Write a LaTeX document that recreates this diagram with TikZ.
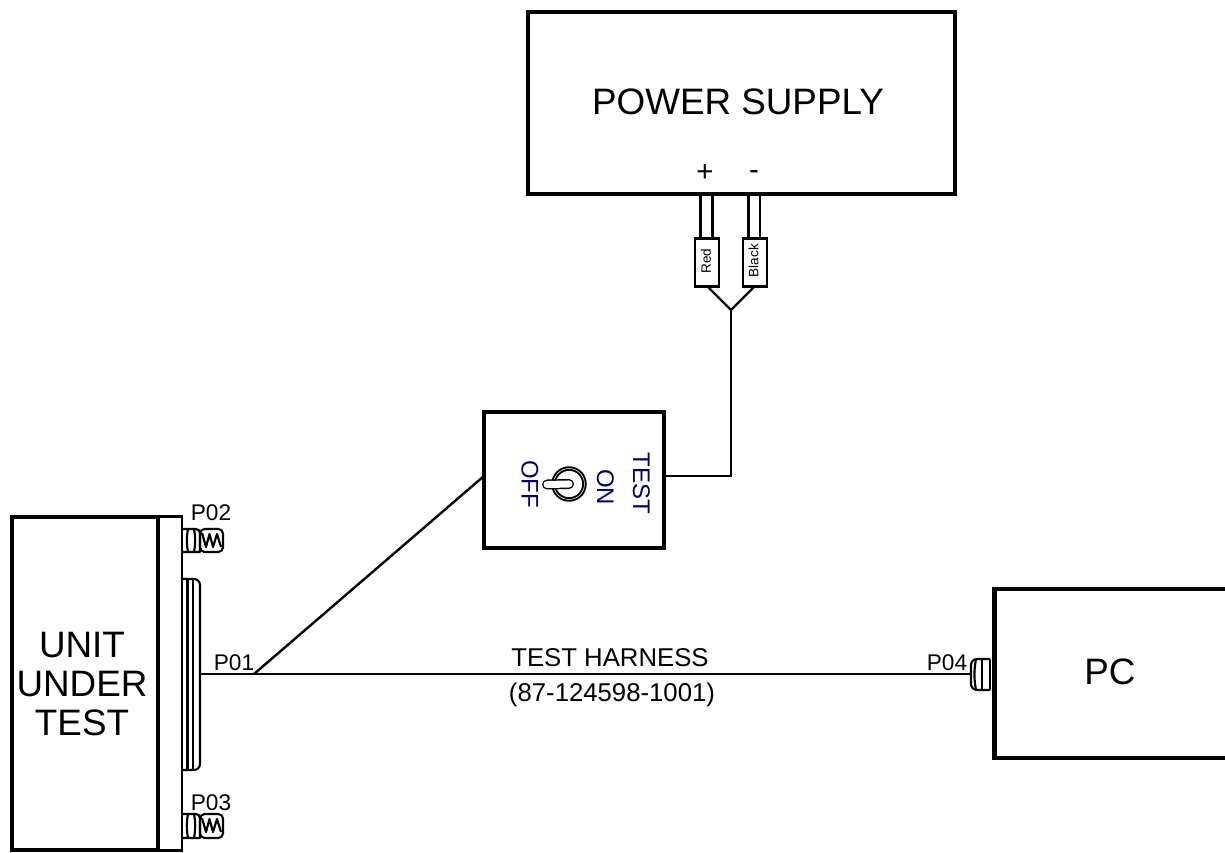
\documentclass[tikz,border=0pt]{standalone}
\usepackage{fontspec}
\setmainfont{Liberation Sans}
\definecolor{swnavy}{RGB}{0,0,100}
\newcommand{\fsz}[1]{\fontsize{#1pt}{#1pt}\selectfont}
\tikzset{
  x=0.75pt,y=-0.75pt,
  heavy/.style={line width=3.3pt},
  mid/.style={line width=2.2pt},
  thin wire/.style={line width=1.8pt},
  fine/.style={line width=1.6pt,line join=round},
  lbl/.style={inner sep=0pt,outer sep=0pt,align=center},
  bigt/.style={lbl,font=\fsz{27.6}},
  medt/.style={lbl,font=\fsz{19.3}},
  tagt/.style={lbl,font=\fsz{17}},
  swt/.style={lbl,font=\fsz{18},text=swnavy,rotate=-90},
  plugt/.style={lbl,font=\fsz{10.2},rotate=90},
  plugbox/.style={draw,mid,fill=white,minimum width=18pt,minimum height=36.5pt,inner sep=0pt,outer sep=0pt},
}
\newcommand{\sideconn}[2]{% y top, y bottom : shell plus spring connector
  \draw[fine] (182,#1) -- (194,#1) to[rounded corners=3pt] (200,#1) -- (200,#2) -- (182,#2);
  \draw[fine] (188,#1) to[out=-100,in=100] (188,#2);
  \draw[fine] (194,#1) to[out=-80,in=80] (194,#2);
  \draw[fine,rounded corners=3.5pt] (200,#1) -- (223,#1) -- (223,#2) -- (200,#2) -- cycle;
  \draw[fine] (202,{#1+4}) -- (206,{#1+18}) -- (209.5,{#1+5}) -- (213,{#1+18}) -- (217,{#1+5}) -- (221,{#1+18});
}
\begin{document}
\begin{tikzpicture}
\useasboundingbox (0,0) rectangle (1225,853);
% power supply
\node[draw,heavy,minimum width=320.2pt,minimum height=136.5pt,inner sep=0pt,outer sep=0pt] (ps) at (741.5,103) {};
\node[bigt] (pstext) at (738,102) {POWER SUPPLY};
\node[lbl,font=\fsz{22}] (plus) at (705,173) {+};
\node[lbl,font=\fsz{22}] (minus) at (754,175) {-};
% plugs
\node[plugbox] (red) at (707,262.5) {};
\node[plugt] (redt) at (706,261) {Red};
\node[plugbox] (black) at (755,262.5) {};
\node[plugt] (blackt) at (753.5,260.5) {Black};
\draw[mid] (700.5,194) -- (700.5,238);
\draw[mid] (712.5,194) -- (712.5,238);
\draw[mid] (748.5,194) -- (748.5,238);
\draw[mid] (760,194) -- (760,238);
\coordinate (fork) at (731,310);
\draw[thin wire] (708,287) -- (fork);
\draw[thin wire] (754,287) -- (fork);
% switch
\node[draw,heavy,minimum width=135pt,minimum height=102pt,inner sep=0pt,outer sep=0pt] (sw) at (574,480) {};
\draw[thin wire] (fork) |- (sw.east |- 0,476);
\node[swt] (swtest) at (641.5,483) {TEST};
\node[swt] (swon) at (605.5,487) {ON};
\node[swt] (swoff) at (530,484) {OFF};
\draw[line width=3.4pt] (569,484) circle (11.6pt);
\draw[line width=0.4pt,white] (569,484) circle (11.6pt);
\draw[line width=7.5pt,line cap=round] (569,484) -- (547,484.5);
\draw[line width=5.3pt,line cap=round,white] (569,484) -- (547,484.5);
% unit under test
\node[draw,mid,minimum width=18pt,minimum height=250pt,inner sep=0pt,outer sep=0pt] (flange) at (170,683.5) {};
\node[draw,heavy,minimum width=109.5pt,minimum height=250pt,inner sep=0pt,outer sep=0pt] (uut) at (85,683.5) {};
\node[lbl,font=\fontsize{27.6pt}{29.25pt}\selectfont,text width=120pt] (uutt) at (82,684) {UNIT\\UNDER\\TEST};
% P01
\draw[fine,rounded corners=4.5pt] (182,579) -- (200,579) -- (200,770) -- (182,770);
\draw[fine] (187.5,579) -- (187.5,770);
\draw[fine] (193,579) -- (193,770);
\coordinate (p01) at (200,674);
\sideconn{529}{552}
\sideconn{814}{838}
\node[tagt] (p01t) at (234,663) {P01};
\node[tagt] (p02t) at (211,513) {P02};
\node[tagt] (p03t) at (211,803) {P03};
% PC
\draw[heavy] (1228,589) -- (994.5,589) -- (994.5,758) -- (1228,758);
\node[lbl,font=\fsz{27.6}] (pct) at (1110,672) {PC};
\draw[fine,rounded corners=4.5pt] (990,659) -- (971,659) -- (971,690) -- (990,690);
\draw[fine] (990,659) -- (990,690);
\draw[fine] (976,659) to[out=-100,in=100] (976,690);
\draw[fine] (982,659) -- (982,690);
\coordinate (p04) at (971,674);
\node[tagt] (p04t) at (947,663) {P04};
% wiring
\coordinate (tee) at (254,674);
\draw[thin wire] (p01) -- (p04);
\draw[thin wire] (tee) -- (sw.west |- 0,476);
\node[medt] (th) at (610,658) {TEST HARNESS};
\node[medt] (pn) at (612,695) {(87-124598-1001)};
\end{tikzpicture}
\end{document}
